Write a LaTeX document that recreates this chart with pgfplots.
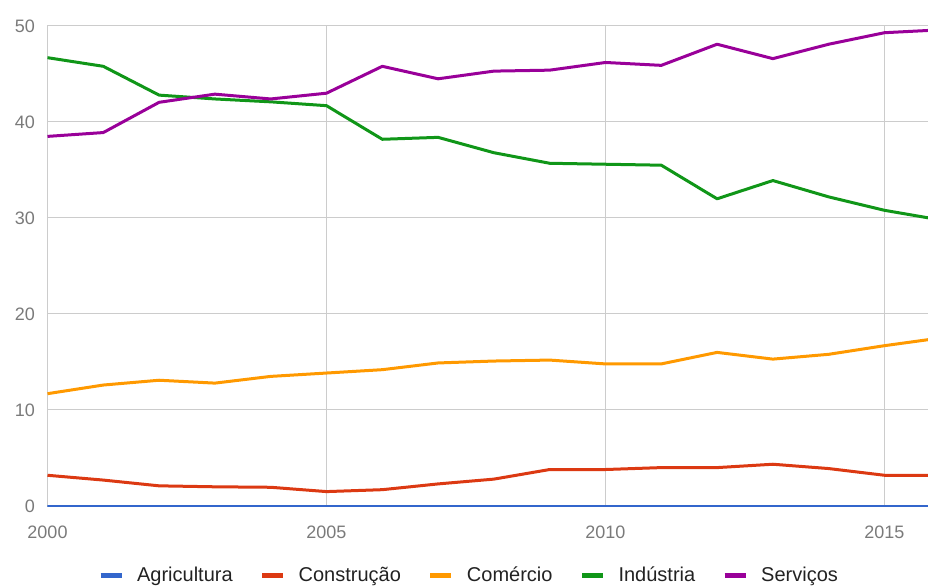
\documentclass[border=0pt]{standalone}
\usepackage{pgfplots}
\pgfplotsset{compat=1.18}
\usetikzlibrary{calc}
\usepackage{fontspec}
\setmainfont{Liberation Sans}
\definecolor{cagr}{HTML}{3366CC}
\definecolor{ccon}{HTML}{DC3912}
\definecolor{ccom}{HTML}{FF9900}
\definecolor{cind}{HTML}{109618}
\definecolor{cser}{HTML}{990099}
\definecolor{gridgray}{HTML}{CCCCCC}
\definecolor{tickgray}{HTML}{7A7A7A}
\definecolor{legtext}{HTML}{222222}
\begin{document}
\begin{tikzpicture}
\begin{axis}[
  scale only axis, width=880.5pt, height=480pt,
  xmin=2000, xmax=2015.78, ymin=0, ymax=50,
  xtick={2000,2005,2010,2015}, ytick={0,10,20,30,40,50},
  grid=major, major grid style={color=gridgray, line width=1pt},
  axis line style={draw=none}, major tick length=0pt,
  /pgf/number format/assume math mode=true,
  xticklabel style={/pgf/number format/1000 sep={}},
  ticklabel style={font=\fontsize{18}{20}\selectfont, text=tickgray},
  xticklabel style={yshift=-16pt},
  yticklabel style={xshift=-9pt},
  legend columns=5,
  legend style={at={(0.4787,-0.144)}, anchor=center, draw=none, fill=none,
    font=\fontsize{20}{22}\selectfont, text=legtext,
    /tikz/every odd column/.append style={column sep=11pt},
    /tikz/every even column/.append style={column sep=25pt}},
  legend image code/.code={\draw[#1, line width=5pt] (0pt,0pt) -- (21pt,0pt);},
  every axis plot/.append style={line width=3pt, line join=round},
]
\addplot[cagr] coordinates {(2000,0) (2001,0) (2002,0) (2003,0) (2004,0) (2005,0) (2006,0) (2007,0) (2008,0) (2009,0) (2010,0) (2011,0) (2012,0) (2013,0) (2014,0) (2015,0) (2016,0)};
\addlegendentry{Agricultura}
\addplot[ccon] coordinates {(2000,3.2) (2001,2.7) (2002,2.1) (2003,2.0) (2004,1.95) (2005,1.5) (2006,1.7) (2007,2.3) (2008,2.8) (2009,3.8) (2010,3.8) (2011,4.0) (2012,4.0) (2013,4.35) (2014,3.9) (2015,3.2) (2016,3.2)};
\addlegendentry{Construção}
\addplot[ccom] coordinates {(2000,11.7) (2001,12.6) (2002,13.1) (2003,12.8) (2004,13.5) (2005,13.85) (2006,14.2) (2007,14.9) (2008,15.1) (2009,15.2) (2010,14.8) (2011,14.8) (2012,16.0) (2013,15.3) (2014,15.8) (2015,16.7) (2016,17.5)};
\addlegendentry{Comércio}
\addplot[cind] coordinates {(2000,46.7) (2001,45.8) (2002,42.8) (2003,42.4) (2004,42.1) (2005,41.7) (2006,38.2) (2007,38.4) (2008,36.8) (2009,35.7) (2010,35.6) (2011,35.5) (2012,32.0) (2013,33.9) (2014,32.2) (2015,30.8) (2016,29.8)};
\addlegendentry{Indústria}
\addplot[cser] coordinates {(2000,38.5) (2001,38.9) (2002,42.05) (2003,42.9) (2004,42.4) (2005,43.0) (2006,45.8) (2007,44.5) (2008,45.3) (2009,45.4) (2010,46.2) (2011,45.9) (2012,48.1) (2013,46.6) (2014,48.1) (2015,49.3) (2016,49.6)};
\addlegendentry{Serviços}
\end{axis}
\pgfresetboundingbox
\path[use as bounding box] ($(current axis.south west)+(-47.5pt,-82pt)$) rectangle ($(current axis.north east)+(0pt,26pt)$);
\end{tikzpicture}
\end{document}
